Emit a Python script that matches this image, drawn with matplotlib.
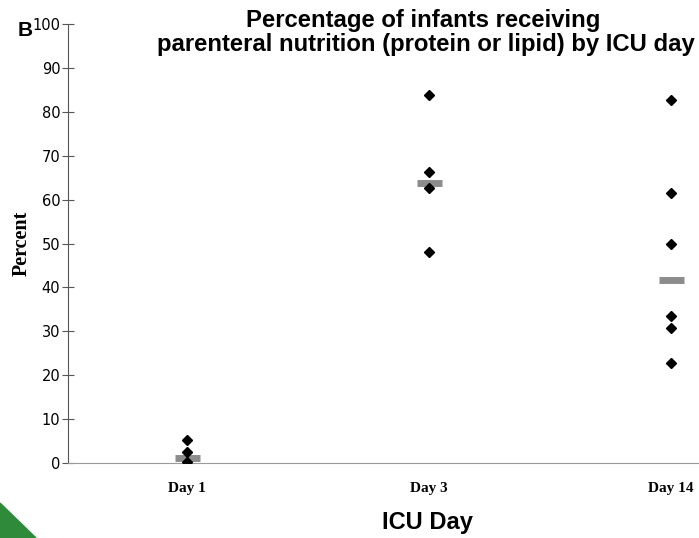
import numpy as np
import matplotlib.pyplot as plt
from matplotlib.patches import Polygon

days = ['Day 1', 'Day 3', 'Day 14']
day1 = [5.2, 2.5, 0.2]
day3 = [83.8, 66.4, 62.6, 48.1]
day14 = [82.8, 61.6, 49.8, 33.5, 30.7, 22.7]
medians = [1.1, 63.8, 41.7]
yticks = np.arange(0, 101, 10)

fig = plt.figure(figsize=(6.99, 5.38), dpi=100)
ax = fig.add_axes([68/699, 1 - 463/538, 631/699, (463 - 24)/538])

for i, vals in enumerate([day1, day3, day14]):
    ax.plot([i]*len(vals), vals, 'D', color='black', markersize=5.5, zorder=3)
ax.plot(range(len(medians)), medians, '_', color='#8c8c8c', markersize=18, mew=5, zorder=2)

ax.set_xlim(-0.49, 2.116)
ax.set_ylim(0, 100)
ax.set_yticks(yticks)
ax.set_yticklabels([str(t) for t in yticks], fontsize=10.5, family='Liberation Sans Narrow')
ax.set_xticks(range(len(days)))
ax.set_xticklabels(days, fontsize=11, family='Liberation Serif', fontweight='bold')
ax.tick_params(axis='x', length=0, pad=14)
ax.tick_params(axis='y', direction='inout', length=9, color='#555555', pad=1)
ax.spines['top'].set_visible(False)
ax.spines['right'].set_visible(False)
ax.spines['left'].set_color('#555555')
ax.spines['bottom'].set_color('#999999')

fig.text(22/699, 1 - 243/538, 'Percent', ha='center', va='center', rotation=90, fontsize=14.5,
         fontweight='bold', family='Liberation Serif')
fig.text(427/699, 1 - 523/538, 'ICU Day', ha='center', va='center', fontsize=17,
         fontweight='bold', family='Liberation Sans')
fig.text(423/699, 1 - 20/538, 'Percentage of infants receiving', ha='center', va='center',
         fontsize=17.2, fontweight='bold', family='Liberation Sans')
fig.text(426/699, 1 - 44/538, 'parenteral nutrition (protein or lipid) by ICU day', ha='center',
         va='center', fontsize=17.2, fontweight='bold', family='Liberation Sans')
fig.text(25/699, 1 - 30/538, 'B', ha='center', va='center', fontsize=15,
         fontweight='bold', family='Liberation Sans')

# green corner
tri = Polygon([[0, 0], [0, 1 - 503/538], [36/699, 0]], closed=True,
              transform=fig.transFigure, color='#2f8a3a', zorder=0)
fig.patches.append(tri)

plt.savefig('out.png', dpi=100)
